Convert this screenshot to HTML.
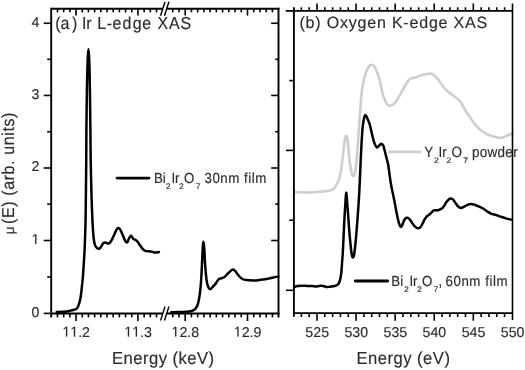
<!DOCTYPE html>
<html><head><meta charset="utf-8"><style>
html,body{margin:0;padding:0;background:#fff;width:525px;height:370px;overflow:hidden}
svg{display:block;will-change:transform}
text{font-family:"Liberation Sans",sans-serif;fill:#2c2c2c;stroke:#2c2c2c;stroke-width:0.15px;text-rendering:geometricPrecision}
.g{fill:#2c2c2c;stroke:#2c2c2c;stroke-width:0.15px;vector-effect:non-scaling-stroke}
</style></head><body>
<svg width="525" height="370" viewBox="0 0 525 370">
<rect width="525" height="370" fill="#fff"/>
<path d="M294.30 192.00 C295.75 192.07 300.12 192.32 303.00 192.40 C305.88 192.48 308.73 192.63 311.60 192.50 C314.47 192.37 317.32 191.88 320.20 191.60 C323.08 191.32 326.73 191.20 328.90 190.80 C331.07 190.40 331.95 190.20 333.20 189.20 C334.45 188.20 335.38 186.62 336.40 184.80 C337.42 182.98 338.52 180.68 339.30 178.30 C340.08 175.92 340.53 174.02 341.10 170.50 C341.67 166.98 342.12 162.08 342.70 157.20 C343.28 152.32 344.03 144.77 344.60 141.20 C345.17 137.63 345.60 135.98 346.10 135.80 C346.60 135.62 347.02 135.98 347.60 140.10 C348.18 144.22 348.92 155.02 349.60 160.50 C350.28 165.98 351.05 170.38 351.70 173.00 C352.35 175.62 352.88 176.53 353.50 176.20 C354.12 175.87 354.78 174.78 355.40 171.00 C356.02 167.22 356.63 160.37 357.20 153.50 C357.77 146.63 358.30 136.88 358.80 129.80 C359.30 122.72 359.72 117.28 360.20 111.00 C360.68 104.72 361.13 97.13 361.70 92.10 C362.27 87.07 362.88 84.10 363.60 80.80 C364.32 77.50 365.12 74.67 366.00 72.30 C366.88 69.93 367.95 67.87 368.90 66.60 C369.85 65.33 370.77 64.70 371.70 64.70 C372.63 64.70 373.55 65.18 374.50 66.60 C375.45 68.02 376.52 70.83 377.40 73.20 C378.28 75.57 378.85 77.10 379.80 80.80 C380.75 84.50 381.92 91.55 383.10 95.40 C384.28 99.25 385.63 102.17 386.90 103.90 C388.17 105.63 389.38 105.95 390.70 105.80 C392.02 105.65 393.48 104.42 394.80 103.00 C396.12 101.58 397.17 99.67 398.60 97.30 C400.03 94.93 401.98 91.32 403.40 88.80 C404.82 86.28 405.85 83.93 407.10 82.20 C408.35 80.47 409.57 79.17 410.90 78.40 C412.23 77.63 413.53 78.07 415.10 77.60 C416.67 77.13 418.58 76.15 420.30 75.60 C422.02 75.05 423.90 74.65 425.40 74.30 C426.90 73.95 428.02 73.50 429.30 73.50 C430.58 73.50 431.82 73.53 433.10 74.30 C434.38 75.07 435.72 76.60 437.00 78.10 C438.28 79.60 439.52 81.58 440.80 83.30 C442.08 85.02 443.20 86.78 444.70 88.40 C446.20 90.02 448.08 91.58 449.80 93.00 C451.52 94.42 453.28 95.52 455.00 96.90 C456.72 98.28 458.38 99.07 460.10 101.30 C461.82 103.53 463.58 107.52 465.30 110.30 C467.02 113.08 468.70 115.57 470.40 118.00 C472.10 120.43 473.78 122.85 475.50 124.90 C477.22 126.95 478.77 128.75 480.70 130.30 C482.63 131.85 484.75 133.13 487.10 134.20 C489.45 135.27 492.45 136.10 494.80 136.70 C497.15 137.30 499.27 137.92 501.20 137.80 C503.13 137.68 504.55 136.73 506.40 136.00 C508.25 135.27 511.32 133.83 512.30 133.40" fill="none" stroke="#cecece" stroke-width="2.60" stroke-linejoin="round" stroke-linecap="round"/>
<path d="M56.80 312.00 C57.57 311.97 59.83 311.88 61.40 311.80 C62.97 311.72 64.88 311.63 66.20 311.50 C67.52 311.37 68.38 311.20 69.30 311.00 C70.22 310.80 70.88 310.52 71.70 310.30 C72.52 310.08 73.48 309.90 74.20 309.70 C74.92 309.50 75.48 309.40 76.00 309.10 C76.52 308.80 76.90 308.48 77.30 307.90 C77.70 307.32 78.05 306.48 78.40 305.60 C78.75 304.72 79.08 303.70 79.40 302.60 C79.72 301.50 80.02 300.43 80.30 299.00 C80.58 297.57 80.83 296.08 81.10 294.00 C81.37 291.92 81.62 289.17 81.90 286.50 C82.18 283.83 82.53 281.08 82.80 278.00 C83.07 274.92 83.27 271.50 83.50 268.00 C83.73 264.50 83.98 260.83 84.20 257.00 C84.42 253.17 84.62 249.50 84.80 245.00 C84.98 240.50 85.16 235.00 85.30 230.00 C85.44 225.00 85.49 226.67 85.65 215.00 C85.81 203.33 86.12 174.17 86.25 160.00 C86.38 145.83 86.29 141.67 86.40 130.00 C86.51 118.33 86.75 99.67 86.90 90.00 C87.05 80.33 87.15 77.50 87.30 72.00 C87.45 66.50 87.61 60.80 87.80 57.00 C87.99 53.20 88.23 49.20 88.45 49.20 C88.67 49.20 88.91 53.20 89.10 57.00 C89.29 60.80 89.47 66.50 89.60 72.00 C89.73 77.50 89.77 80.33 89.90 90.00 C90.03 99.67 90.27 118.33 90.40 130.00 C90.53 141.67 90.52 149.17 90.70 160.00 C90.88 170.83 91.25 185.83 91.50 195.00 C91.75 204.17 91.98 209.63 92.20 215.00 C92.42 220.37 92.55 223.28 92.80 227.20 C93.05 231.12 93.33 235.50 93.70 238.50 C94.07 241.50 94.45 243.62 95.00 245.20 C95.55 246.78 96.27 247.42 97.00 248.00 C97.73 248.58 98.68 248.97 99.40 248.70 C100.12 248.43 100.65 247.32 101.30 246.40 C101.95 245.48 102.58 243.87 103.30 243.20 C104.02 242.53 104.83 242.33 105.60 242.40 C106.37 242.47 107.15 243.60 107.90 243.60 C108.65 243.60 109.35 243.23 110.10 242.40 C110.85 241.57 111.50 240.37 112.40 238.60 C113.30 236.83 114.65 233.53 115.50 231.80 C116.35 230.07 116.80 228.68 117.50 228.20 C118.20 227.72 119.02 228.18 119.70 228.90 C120.38 229.62 120.90 231.00 121.60 232.50 C122.30 234.00 123.20 236.37 123.90 237.90 C124.60 239.43 125.22 240.98 125.80 241.70 C126.38 242.42 126.88 242.72 127.40 242.20 C127.92 241.68 128.35 239.67 128.90 238.60 C129.45 237.53 130.15 236.05 130.70 235.80 C131.25 235.55 131.73 236.55 132.20 237.10 C132.67 237.65 132.98 238.67 133.50 239.10 C134.02 239.53 134.62 239.27 135.30 239.70 C135.98 240.13 136.83 240.78 137.60 241.70 C138.37 242.62 139.07 244.02 139.90 245.20 C140.73 246.38 141.72 247.87 142.60 248.80 C143.48 249.73 144.13 250.38 145.20 250.80 C146.27 251.22 147.87 251.17 149.00 251.30 C150.13 251.43 150.98 251.38 152.00 251.60 C153.02 251.82 153.95 252.53 155.10 252.60 C156.25 252.67 158.27 252.10 158.90 252.00" fill="none" stroke="#000" stroke-width="2.50" stroke-linejoin="round" stroke-linecap="round"/>
<path d="M171.30 312.30 C172.68 312.27 177.15 312.20 179.60 312.10 C182.05 312.00 184.17 311.85 186.00 311.70 C187.83 311.55 189.33 311.45 190.60 311.20 C191.87 310.95 192.73 310.70 193.60 310.20 C194.47 309.70 195.17 309.02 195.80 308.20 C196.43 307.38 196.93 306.47 197.40 305.30 C197.87 304.13 198.25 302.75 198.60 301.20 C198.95 299.65 199.22 297.87 199.50 296.00 C199.78 294.13 200.05 292.33 200.30 290.00 C200.55 287.67 200.78 285.00 201.00 282.00 C201.22 279.00 201.38 276.17 201.60 272.00 C201.82 267.83 202.10 261.17 202.30 257.00 C202.50 252.83 202.62 249.55 202.80 247.00 C202.98 244.45 203.12 241.70 203.35 241.70 C203.58 241.70 203.91 243.27 204.20 247.00 C204.49 250.73 204.68 258.42 205.10 264.10 C205.52 269.78 206.12 277.17 206.70 281.10 C207.28 285.03 207.98 286.37 208.60 287.70 C209.22 289.03 209.72 289.25 210.40 289.10 C211.08 288.95 211.85 287.67 212.70 286.80 C213.55 285.93 214.55 285.10 215.50 283.90 C216.45 282.70 217.45 280.53 218.40 279.60 C219.35 278.67 220.25 278.68 221.20 278.30 C222.15 277.92 222.98 278.10 224.10 277.30 C225.22 276.50 226.52 274.78 227.90 273.50 C229.28 272.22 231.23 270.07 232.40 269.60 C233.57 269.13 234.03 269.90 234.90 270.70 C235.77 271.50 236.62 273.20 237.60 274.40 C238.58 275.60 239.73 277.03 240.80 277.90 C241.87 278.77 242.57 279.22 244.00 279.60 C245.43 279.98 247.42 280.07 249.40 280.20 C251.38 280.33 253.73 280.50 255.90 280.40 C258.07 280.30 260.23 279.90 262.40 279.60 C264.57 279.30 266.92 279.00 268.90 278.60 C270.88 278.20 272.70 277.55 274.30 277.20 C275.90 276.85 277.80 276.62 278.50 276.50" fill="none" stroke="#000" stroke-width="2.50" stroke-linejoin="round" stroke-linecap="round"/>
<path d="M294.30 287.00 C294.85 286.83 296.25 286.22 297.60 286.00 C298.95 285.78 300.82 285.70 302.40 285.70 C303.98 285.70 305.52 285.95 307.10 286.00 C308.68 286.05 310.30 285.92 311.90 286.00 C313.50 286.08 315.27 286.55 316.70 286.50 C318.13 286.45 319.40 285.78 320.50 285.70 C321.60 285.62 322.35 285.77 323.30 286.00 C324.25 286.23 325.08 286.98 326.20 287.10 C327.32 287.22 328.57 286.88 330.00 286.70 C331.43 286.52 333.53 286.32 334.80 286.00 C336.07 285.68 336.87 285.38 337.60 284.80 C338.33 284.22 338.72 283.63 339.20 282.50 C339.68 281.37 340.13 279.83 340.50 278.00 C340.87 276.17 341.13 274.17 341.40 271.50 C341.67 268.83 341.87 265.15 342.10 262.00 C342.33 258.85 342.57 256.60 342.80 252.60 C343.03 248.60 343.28 242.52 343.50 238.00 C343.72 233.48 343.88 229.83 344.10 225.50 C344.32 221.17 344.57 216.05 344.80 212.00 C345.03 207.95 345.27 204.40 345.50 201.20 C345.73 198.00 345.95 193.00 346.20 192.80 C346.45 192.60 346.72 196.80 347.00 200.00 C347.28 203.20 347.52 206.83 347.90 212.00 C348.28 217.17 348.83 225.33 349.30 231.00 C349.77 236.67 350.27 242.00 350.70 246.00 C351.13 250.00 351.52 253.10 351.90 255.00 C352.28 256.90 352.62 257.48 353.00 257.40 C353.38 257.32 353.82 256.57 354.20 254.50 C354.58 252.43 354.93 248.58 355.30 245.00 C355.67 241.42 356.03 237.33 356.40 233.00 C356.77 228.67 357.15 223.67 357.50 219.00 C357.85 214.33 358.20 209.57 358.50 205.00 C358.80 200.43 359.00 197.43 359.30 191.60 C359.60 185.77 359.98 176.93 360.30 170.00 C360.62 163.07 360.85 156.67 361.20 150.00 C361.55 143.33 362.00 134.92 362.40 130.00 C362.80 125.08 363.23 122.80 363.60 120.50 C363.97 118.20 364.30 117.12 364.60 116.20 C364.90 115.28 365.12 115.00 365.40 115.00 C365.68 115.00 365.97 115.60 366.30 116.20 C366.63 116.80 366.85 117.30 367.40 118.60 C367.95 119.90 368.83 121.42 369.60 124.00 C370.37 126.58 371.20 130.92 372.00 134.10 C372.80 137.28 373.58 140.88 374.40 143.10 C375.22 145.32 376.08 147.00 376.90 147.40 C377.72 147.80 378.58 146.12 379.30 145.50 C380.02 144.88 380.53 143.70 381.20 143.70 C381.87 143.70 382.67 144.12 383.30 145.50 C383.93 146.88 384.45 149.85 385.00 152.00 C385.55 154.15 386.07 156.23 386.60 158.40 C387.13 160.57 387.50 160.87 388.20 165.00 C388.90 169.13 389.97 178.20 390.80 183.20 C391.63 188.20 392.52 191.58 393.20 195.00 C393.88 198.42 394.35 200.82 394.90 203.70 C395.45 206.58 395.97 209.60 396.50 212.30 C397.03 215.00 397.57 217.73 398.10 219.90 C398.63 222.07 399.22 224.13 399.70 225.30 C400.18 226.47 400.55 226.98 401.00 226.90 C401.45 226.82 401.88 225.88 402.40 224.80 C402.92 223.72 403.47 221.55 404.10 220.40 C404.73 219.25 405.57 218.32 406.20 217.90 C406.83 217.48 407.27 217.60 407.90 217.90 C408.53 218.20 409.20 218.73 410.00 219.70 C410.80 220.67 411.80 222.50 412.70 223.70 C413.60 224.90 414.53 226.13 415.40 226.90 C416.27 227.67 417.08 228.23 417.90 228.30 C418.72 228.37 419.53 228.07 420.30 227.30 C421.07 226.53 421.78 225.02 422.50 223.70 C423.22 222.38 423.88 220.62 424.60 219.40 C425.32 218.18 425.98 217.22 426.80 216.40 C427.62 215.58 428.68 215.18 429.50 214.50 C430.32 213.82 430.98 212.98 431.70 212.30 C432.42 211.62 433.00 210.75 433.80 210.40 C434.60 210.05 435.67 210.27 436.50 210.20 C437.33 210.13 437.90 210.27 438.80 210.00 C439.70 209.73 441.02 209.28 441.90 208.60 C442.78 207.92 443.35 206.98 444.10 205.90 C444.85 204.82 445.63 203.17 446.40 202.10 C447.17 201.03 447.93 200.08 448.70 199.50 C449.47 198.92 450.23 198.55 451.00 198.60 C451.77 198.65 452.53 199.03 453.30 199.80 C454.07 200.57 454.83 202.13 455.60 203.20 C456.37 204.27 457.02 205.42 457.90 206.20 C458.78 206.98 459.88 207.82 460.90 207.90 C461.92 207.98 462.98 207.17 464.00 206.70 C465.02 206.23 465.87 205.53 467.00 205.10 C468.13 204.67 469.53 204.15 470.80 204.10 C472.07 204.05 473.20 204.37 474.60 204.80 C476.00 205.23 477.67 206.00 479.20 206.70 C480.73 207.40 482.40 208.17 483.80 209.00 C485.20 209.83 486.33 210.90 487.60 211.70 C488.87 212.50 490.00 213.25 491.40 213.80 C492.80 214.35 494.48 214.53 496.00 215.00 C497.52 215.47 498.85 216.03 500.50 216.60 C502.15 217.17 504.12 217.90 505.90 218.40 C507.68 218.90 510.32 219.40 511.20 219.60" fill="none" stroke="#000" stroke-width="2.50" stroke-linejoin="round" stroke-linecap="round"/>
<line x1="117.0" y1="178.1" x2="148.9" y2="178.1" stroke="#000" stroke-width="2.8" stroke-linecap="round"/>
<line x1="389.0" y1="151.9" x2="420.3" y2="151.9" stroke="#cecece" stroke-width="2.8" stroke-linecap="round"/>
<line x1="355.3" y1="281.0" x2="387.7" y2="281.0" stroke="#000" stroke-width="2.8" stroke-linecap="round"/>
<line x1="51.20" y1="7.80" x2="51.20" y2="317.40" stroke="#000" stroke-width="1.90" stroke-linecap="butt"/>
<line x1="278.50" y1="7.80" x2="278.50" y2="317.40" stroke="#000" stroke-width="1.90" stroke-linecap="butt"/>
<line x1="51.20" y1="8.75" x2="162.80" y2="8.75" stroke="#000" stroke-width="1.90" stroke-linecap="butt"/>
<line x1="166.70" y1="8.75" x2="279.45" y2="8.75" stroke="#000" stroke-width="1.90" stroke-linecap="butt"/>
<line x1="51.20" y1="313.50" x2="162.80" y2="313.50" stroke="#000" stroke-width="1.90" stroke-linecap="butt"/>
<line x1="166.70" y1="313.50" x2="279.45" y2="313.50" stroke="#000" stroke-width="1.90" stroke-linecap="butt"/>
<line x1="160.55" y1="15.75" x2="165.05" y2="1.75" stroke="#000" stroke-width="1.40" stroke-linecap="butt"/>
<line x1="164.45" y1="15.75" x2="168.95" y2="1.75" stroke="#000" stroke-width="1.40" stroke-linecap="butt"/>
<line x1="160.55" y1="320.50" x2="165.05" y2="306.50" stroke="#000" stroke-width="1.40" stroke-linecap="butt"/>
<line x1="164.45" y1="320.50" x2="168.95" y2="306.50" stroke="#000" stroke-width="1.40" stroke-linecap="butt"/>
<line x1="43.70" y1="313.41" x2="51.20" y2="313.41" stroke="#000" stroke-width="1.60" stroke-linecap="butt"/>
<line x1="47.20" y1="277.00" x2="51.20" y2="277.00" stroke="#000" stroke-width="1.60" stroke-linecap="butt"/>
<line x1="275.30" y1="277.00" x2="278.50" y2="277.00" stroke="#000" stroke-width="1.60" stroke-linecap="butt"/>
<line x1="43.70" y1="240.50" x2="51.20" y2="240.50" stroke="#000" stroke-width="1.60" stroke-linecap="butt"/>
<line x1="271.20" y1="240.50" x2="278.50" y2="240.50" stroke="#000" stroke-width="1.60" stroke-linecap="butt"/>
<line x1="47.20" y1="204.20" x2="51.20" y2="204.20" stroke="#000" stroke-width="1.60" stroke-linecap="butt"/>
<line x1="275.30" y1="204.20" x2="278.50" y2="204.20" stroke="#000" stroke-width="1.60" stroke-linecap="butt"/>
<line x1="43.70" y1="168.00" x2="51.20" y2="168.00" stroke="#000" stroke-width="1.60" stroke-linecap="butt"/>
<line x1="271.20" y1="168.00" x2="278.50" y2="168.00" stroke="#000" stroke-width="1.60" stroke-linecap="butt"/>
<line x1="47.20" y1="131.70" x2="51.20" y2="131.70" stroke="#000" stroke-width="1.60" stroke-linecap="butt"/>
<line x1="275.30" y1="131.70" x2="278.50" y2="131.70" stroke="#000" stroke-width="1.60" stroke-linecap="butt"/>
<line x1="43.70" y1="95.45" x2="51.20" y2="95.45" stroke="#000" stroke-width="1.60" stroke-linecap="butt"/>
<line x1="271.20" y1="95.45" x2="278.50" y2="95.45" stroke="#000" stroke-width="1.60" stroke-linecap="butt"/>
<line x1="47.20" y1="59.30" x2="51.20" y2="59.30" stroke="#000" stroke-width="1.60" stroke-linecap="butt"/>
<line x1="275.30" y1="59.30" x2="278.50" y2="59.30" stroke="#000" stroke-width="1.60" stroke-linecap="butt"/>
<line x1="43.70" y1="23.27" x2="51.20" y2="23.27" stroke="#000" stroke-width="1.60" stroke-linecap="butt"/>
<line x1="271.20" y1="23.27" x2="278.50" y2="23.27" stroke="#000" stroke-width="1.60" stroke-linecap="butt"/>
<line x1="57.49" y1="313.50" x2="57.49" y2="317.40" stroke="#000" stroke-width="1.60" stroke-linecap="butt"/>
<line x1="57.49" y1="8.75" x2="57.49" y2="12.35" stroke="#000" stroke-width="1.60" stroke-linecap="butt"/>
<line x1="63.68" y1="313.50" x2="63.68" y2="317.40" stroke="#000" stroke-width="1.60" stroke-linecap="butt"/>
<line x1="63.68" y1="8.75" x2="63.68" y2="12.35" stroke="#000" stroke-width="1.60" stroke-linecap="butt"/>
<line x1="69.87" y1="313.50" x2="69.87" y2="317.40" stroke="#000" stroke-width="1.60" stroke-linecap="butt"/>
<line x1="69.87" y1="8.75" x2="69.87" y2="12.35" stroke="#000" stroke-width="1.60" stroke-linecap="butt"/>
<line x1="76.06" y1="313.50" x2="76.06" y2="321.00" stroke="#000" stroke-width="1.60" stroke-linecap="butt"/>
<line x1="76.06" y1="8.75" x2="76.06" y2="15.55" stroke="#000" stroke-width="1.60" stroke-linecap="butt"/>
<line x1="82.25" y1="313.50" x2="82.25" y2="317.40" stroke="#000" stroke-width="1.60" stroke-linecap="butt"/>
<line x1="82.25" y1="8.75" x2="82.25" y2="12.35" stroke="#000" stroke-width="1.60" stroke-linecap="butt"/>
<line x1="88.44" y1="313.50" x2="88.44" y2="317.40" stroke="#000" stroke-width="1.60" stroke-linecap="butt"/>
<line x1="88.44" y1="8.75" x2="88.44" y2="12.35" stroke="#000" stroke-width="1.60" stroke-linecap="butt"/>
<line x1="94.63" y1="313.50" x2="94.63" y2="317.40" stroke="#000" stroke-width="1.60" stroke-linecap="butt"/>
<line x1="94.63" y1="8.75" x2="94.63" y2="12.35" stroke="#000" stroke-width="1.60" stroke-linecap="butt"/>
<line x1="100.82" y1="313.50" x2="100.82" y2="317.40" stroke="#000" stroke-width="1.60" stroke-linecap="butt"/>
<line x1="100.82" y1="8.75" x2="100.82" y2="12.35" stroke="#000" stroke-width="1.60" stroke-linecap="butt"/>
<line x1="107.01" y1="313.50" x2="107.01" y2="317.40" stroke="#000" stroke-width="1.60" stroke-linecap="butt"/>
<line x1="107.01" y1="8.75" x2="107.01" y2="12.35" stroke="#000" stroke-width="1.60" stroke-linecap="butt"/>
<line x1="113.19" y1="313.50" x2="113.19" y2="317.40" stroke="#000" stroke-width="1.60" stroke-linecap="butt"/>
<line x1="113.19" y1="8.75" x2="113.19" y2="12.35" stroke="#000" stroke-width="1.60" stroke-linecap="butt"/>
<line x1="119.38" y1="313.50" x2="119.38" y2="317.40" stroke="#000" stroke-width="1.60" stroke-linecap="butt"/>
<line x1="119.38" y1="8.75" x2="119.38" y2="12.35" stroke="#000" stroke-width="1.60" stroke-linecap="butt"/>
<line x1="125.57" y1="313.50" x2="125.57" y2="317.40" stroke="#000" stroke-width="1.60" stroke-linecap="butt"/>
<line x1="125.57" y1="8.75" x2="125.57" y2="12.35" stroke="#000" stroke-width="1.60" stroke-linecap="butt"/>
<line x1="131.76" y1="313.50" x2="131.76" y2="317.40" stroke="#000" stroke-width="1.60" stroke-linecap="butt"/>
<line x1="131.76" y1="8.75" x2="131.76" y2="12.35" stroke="#000" stroke-width="1.60" stroke-linecap="butt"/>
<line x1="137.95" y1="313.50" x2="137.95" y2="321.00" stroke="#000" stroke-width="1.60" stroke-linecap="butt"/>
<line x1="137.95" y1="8.75" x2="137.95" y2="15.55" stroke="#000" stroke-width="1.60" stroke-linecap="butt"/>
<line x1="144.14" y1="313.50" x2="144.14" y2="317.40" stroke="#000" stroke-width="1.60" stroke-linecap="butt"/>
<line x1="144.14" y1="8.75" x2="144.14" y2="12.35" stroke="#000" stroke-width="1.60" stroke-linecap="butt"/>
<line x1="150.33" y1="313.50" x2="150.33" y2="317.40" stroke="#000" stroke-width="1.60" stroke-linecap="butt"/>
<line x1="150.33" y1="8.75" x2="150.33" y2="12.35" stroke="#000" stroke-width="1.60" stroke-linecap="butt"/>
<line x1="156.52" y1="313.50" x2="156.52" y2="317.40" stroke="#000" stroke-width="1.60" stroke-linecap="butt"/>
<line x1="156.52" y1="8.75" x2="156.52" y2="12.35" stroke="#000" stroke-width="1.60" stroke-linecap="butt"/>
<line x1="172.74" y1="313.50" x2="172.74" y2="317.40" stroke="#000" stroke-width="1.60" stroke-linecap="butt"/>
<line x1="172.74" y1="8.75" x2="172.74" y2="12.35" stroke="#000" stroke-width="1.60" stroke-linecap="butt"/>
<line x1="178.97" y1="313.50" x2="178.97" y2="317.40" stroke="#000" stroke-width="1.60" stroke-linecap="butt"/>
<line x1="178.97" y1="8.75" x2="178.97" y2="12.35" stroke="#000" stroke-width="1.60" stroke-linecap="butt"/>
<line x1="185.20" y1="313.50" x2="185.20" y2="321.00" stroke="#000" stroke-width="1.60" stroke-linecap="butt"/>
<line x1="185.20" y1="8.75" x2="185.20" y2="15.55" stroke="#000" stroke-width="1.60" stroke-linecap="butt"/>
<line x1="191.43" y1="313.50" x2="191.43" y2="317.40" stroke="#000" stroke-width="1.60" stroke-linecap="butt"/>
<line x1="191.43" y1="8.75" x2="191.43" y2="12.35" stroke="#000" stroke-width="1.60" stroke-linecap="butt"/>
<line x1="197.66" y1="313.50" x2="197.66" y2="317.40" stroke="#000" stroke-width="1.60" stroke-linecap="butt"/>
<line x1="197.66" y1="8.75" x2="197.66" y2="12.35" stroke="#000" stroke-width="1.60" stroke-linecap="butt"/>
<line x1="203.89" y1="313.50" x2="203.89" y2="317.40" stroke="#000" stroke-width="1.60" stroke-linecap="butt"/>
<line x1="203.89" y1="8.75" x2="203.89" y2="12.35" stroke="#000" stroke-width="1.60" stroke-linecap="butt"/>
<line x1="210.12" y1="313.50" x2="210.12" y2="317.40" stroke="#000" stroke-width="1.60" stroke-linecap="butt"/>
<line x1="210.12" y1="8.75" x2="210.12" y2="12.35" stroke="#000" stroke-width="1.60" stroke-linecap="butt"/>
<line x1="216.35" y1="313.50" x2="216.35" y2="317.40" stroke="#000" stroke-width="1.60" stroke-linecap="butt"/>
<line x1="216.35" y1="8.75" x2="216.35" y2="12.35" stroke="#000" stroke-width="1.60" stroke-linecap="butt"/>
<line x1="222.58" y1="313.50" x2="222.58" y2="317.40" stroke="#000" stroke-width="1.60" stroke-linecap="butt"/>
<line x1="222.58" y1="8.75" x2="222.58" y2="12.35" stroke="#000" stroke-width="1.60" stroke-linecap="butt"/>
<line x1="228.81" y1="313.50" x2="228.81" y2="317.40" stroke="#000" stroke-width="1.60" stroke-linecap="butt"/>
<line x1="228.81" y1="8.75" x2="228.81" y2="12.35" stroke="#000" stroke-width="1.60" stroke-linecap="butt"/>
<line x1="235.04" y1="313.50" x2="235.04" y2="317.40" stroke="#000" stroke-width="1.60" stroke-linecap="butt"/>
<line x1="235.04" y1="8.75" x2="235.04" y2="12.35" stroke="#000" stroke-width="1.60" stroke-linecap="butt"/>
<line x1="241.27" y1="313.50" x2="241.27" y2="317.40" stroke="#000" stroke-width="1.60" stroke-linecap="butt"/>
<line x1="241.27" y1="8.75" x2="241.27" y2="12.35" stroke="#000" stroke-width="1.60" stroke-linecap="butt"/>
<line x1="247.50" y1="313.50" x2="247.50" y2="321.00" stroke="#000" stroke-width="1.60" stroke-linecap="butt"/>
<line x1="247.50" y1="8.75" x2="247.50" y2="15.55" stroke="#000" stroke-width="1.60" stroke-linecap="butt"/>
<line x1="253.73" y1="313.50" x2="253.73" y2="317.40" stroke="#000" stroke-width="1.60" stroke-linecap="butt"/>
<line x1="253.73" y1="8.75" x2="253.73" y2="12.35" stroke="#000" stroke-width="1.60" stroke-linecap="butt"/>
<line x1="259.96" y1="313.50" x2="259.96" y2="317.40" stroke="#000" stroke-width="1.60" stroke-linecap="butt"/>
<line x1="259.96" y1="8.75" x2="259.96" y2="12.35" stroke="#000" stroke-width="1.60" stroke-linecap="butt"/>
<line x1="266.19" y1="313.50" x2="266.19" y2="317.40" stroke="#000" stroke-width="1.60" stroke-linecap="butt"/>
<line x1="266.19" y1="8.75" x2="266.19" y2="12.35" stroke="#000" stroke-width="1.60" stroke-linecap="butt"/>
<line x1="272.42" y1="313.50" x2="272.42" y2="317.40" stroke="#000" stroke-width="1.60" stroke-linecap="butt"/>
<line x1="272.42" y1="8.75" x2="272.42" y2="12.35" stroke="#000" stroke-width="1.60" stroke-linecap="butt"/>
<line x1="293.90" y1="7.30" x2="293.90" y2="316.70" stroke="#000" stroke-width="1.90" stroke-linecap="butt"/>
<line x1="512.50" y1="3.40" x2="512.50" y2="320.10" stroke="#000" stroke-width="1.60" stroke-linecap="butt"/>
<line x1="285.80" y1="10.90" x2="512.50" y2="10.90" stroke="#000" stroke-width="1.90" stroke-linecap="butt"/>
<line x1="293.90" y1="313.10" x2="512.50" y2="313.10" stroke="#000" stroke-width="1.90" stroke-linecap="butt"/>
<line x1="301.37" y1="313.10" x2="301.37" y2="317.00" stroke="#000" stroke-width="1.60" stroke-linecap="butt"/>
<line x1="301.37" y1="10.90" x2="301.37" y2="7.30" stroke="#000" stroke-width="1.60" stroke-linecap="butt"/>
<line x1="309.18" y1="313.10" x2="309.18" y2="317.00" stroke="#000" stroke-width="1.60" stroke-linecap="butt"/>
<line x1="309.18" y1="10.90" x2="309.18" y2="7.30" stroke="#000" stroke-width="1.60" stroke-linecap="butt"/>
<line x1="317.00" y1="313.10" x2="317.00" y2="320.70" stroke="#000" stroke-width="1.60" stroke-linecap="butt"/>
<line x1="317.00" y1="10.90" x2="317.00" y2="3.40" stroke="#000" stroke-width="1.60" stroke-linecap="butt"/>
<line x1="324.82" y1="313.10" x2="324.82" y2="317.00" stroke="#000" stroke-width="1.60" stroke-linecap="butt"/>
<line x1="324.82" y1="10.90" x2="324.82" y2="7.30" stroke="#000" stroke-width="1.60" stroke-linecap="butt"/>
<line x1="332.63" y1="313.10" x2="332.63" y2="317.00" stroke="#000" stroke-width="1.60" stroke-linecap="butt"/>
<line x1="332.63" y1="10.90" x2="332.63" y2="7.30" stroke="#000" stroke-width="1.60" stroke-linecap="butt"/>
<line x1="340.45" y1="313.10" x2="340.45" y2="317.00" stroke="#000" stroke-width="1.60" stroke-linecap="butt"/>
<line x1="340.45" y1="10.90" x2="340.45" y2="7.30" stroke="#000" stroke-width="1.60" stroke-linecap="butt"/>
<line x1="348.26" y1="313.10" x2="348.26" y2="317.00" stroke="#000" stroke-width="1.60" stroke-linecap="butt"/>
<line x1="348.26" y1="10.90" x2="348.26" y2="7.30" stroke="#000" stroke-width="1.60" stroke-linecap="butt"/>
<line x1="356.08" y1="313.10" x2="356.08" y2="320.70" stroke="#000" stroke-width="1.60" stroke-linecap="butt"/>
<line x1="356.08" y1="10.90" x2="356.08" y2="3.40" stroke="#000" stroke-width="1.60" stroke-linecap="butt"/>
<line x1="363.90" y1="313.10" x2="363.90" y2="317.00" stroke="#000" stroke-width="1.60" stroke-linecap="butt"/>
<line x1="363.90" y1="10.90" x2="363.90" y2="7.30" stroke="#000" stroke-width="1.60" stroke-linecap="butt"/>
<line x1="371.71" y1="313.10" x2="371.71" y2="317.00" stroke="#000" stroke-width="1.60" stroke-linecap="butt"/>
<line x1="371.71" y1="10.90" x2="371.71" y2="7.30" stroke="#000" stroke-width="1.60" stroke-linecap="butt"/>
<line x1="379.53" y1="313.10" x2="379.53" y2="317.00" stroke="#000" stroke-width="1.60" stroke-linecap="butt"/>
<line x1="379.53" y1="10.90" x2="379.53" y2="7.30" stroke="#000" stroke-width="1.60" stroke-linecap="butt"/>
<line x1="387.34" y1="313.10" x2="387.34" y2="317.00" stroke="#000" stroke-width="1.60" stroke-linecap="butt"/>
<line x1="387.34" y1="10.90" x2="387.34" y2="7.30" stroke="#000" stroke-width="1.60" stroke-linecap="butt"/>
<line x1="395.16" y1="313.10" x2="395.16" y2="320.70" stroke="#000" stroke-width="1.60" stroke-linecap="butt"/>
<line x1="395.16" y1="10.90" x2="395.16" y2="3.40" stroke="#000" stroke-width="1.60" stroke-linecap="butt"/>
<line x1="402.98" y1="313.10" x2="402.98" y2="317.00" stroke="#000" stroke-width="1.60" stroke-linecap="butt"/>
<line x1="402.98" y1="10.90" x2="402.98" y2="7.30" stroke="#000" stroke-width="1.60" stroke-linecap="butt"/>
<line x1="410.79" y1="313.10" x2="410.79" y2="317.00" stroke="#000" stroke-width="1.60" stroke-linecap="butt"/>
<line x1="410.79" y1="10.90" x2="410.79" y2="7.30" stroke="#000" stroke-width="1.60" stroke-linecap="butt"/>
<line x1="418.61" y1="313.10" x2="418.61" y2="317.00" stroke="#000" stroke-width="1.60" stroke-linecap="butt"/>
<line x1="418.61" y1="10.90" x2="418.61" y2="7.30" stroke="#000" stroke-width="1.60" stroke-linecap="butt"/>
<line x1="426.42" y1="313.10" x2="426.42" y2="317.00" stroke="#000" stroke-width="1.60" stroke-linecap="butt"/>
<line x1="426.42" y1="10.90" x2="426.42" y2="7.30" stroke="#000" stroke-width="1.60" stroke-linecap="butt"/>
<line x1="434.24" y1="313.10" x2="434.24" y2="320.70" stroke="#000" stroke-width="1.60" stroke-linecap="butt"/>
<line x1="434.24" y1="10.90" x2="434.24" y2="3.40" stroke="#000" stroke-width="1.60" stroke-linecap="butt"/>
<line x1="442.06" y1="313.10" x2="442.06" y2="317.00" stroke="#000" stroke-width="1.60" stroke-linecap="butt"/>
<line x1="442.06" y1="10.90" x2="442.06" y2="7.30" stroke="#000" stroke-width="1.60" stroke-linecap="butt"/>
<line x1="449.87" y1="313.10" x2="449.87" y2="317.00" stroke="#000" stroke-width="1.60" stroke-linecap="butt"/>
<line x1="449.87" y1="10.90" x2="449.87" y2="7.30" stroke="#000" stroke-width="1.60" stroke-linecap="butt"/>
<line x1="457.69" y1="313.10" x2="457.69" y2="317.00" stroke="#000" stroke-width="1.60" stroke-linecap="butt"/>
<line x1="457.69" y1="10.90" x2="457.69" y2="7.30" stroke="#000" stroke-width="1.60" stroke-linecap="butt"/>
<line x1="465.50" y1="313.10" x2="465.50" y2="317.00" stroke="#000" stroke-width="1.60" stroke-linecap="butt"/>
<line x1="465.50" y1="10.90" x2="465.50" y2="7.30" stroke="#000" stroke-width="1.60" stroke-linecap="butt"/>
<line x1="473.32" y1="313.10" x2="473.32" y2="320.70" stroke="#000" stroke-width="1.60" stroke-linecap="butt"/>
<line x1="473.32" y1="10.90" x2="473.32" y2="3.40" stroke="#000" stroke-width="1.60" stroke-linecap="butt"/>
<line x1="481.14" y1="313.10" x2="481.14" y2="317.00" stroke="#000" stroke-width="1.60" stroke-linecap="butt"/>
<line x1="481.14" y1="10.90" x2="481.14" y2="7.30" stroke="#000" stroke-width="1.60" stroke-linecap="butt"/>
<line x1="488.95" y1="313.10" x2="488.95" y2="317.00" stroke="#000" stroke-width="1.60" stroke-linecap="butt"/>
<line x1="488.95" y1="10.90" x2="488.95" y2="7.30" stroke="#000" stroke-width="1.60" stroke-linecap="butt"/>
<line x1="496.77" y1="313.10" x2="496.77" y2="317.00" stroke="#000" stroke-width="1.60" stroke-linecap="butt"/>
<line x1="496.77" y1="10.90" x2="496.77" y2="7.30" stroke="#000" stroke-width="1.60" stroke-linecap="butt"/>
<line x1="504.58" y1="313.10" x2="504.58" y2="317.00" stroke="#000" stroke-width="1.60" stroke-linecap="butt"/>
<line x1="504.58" y1="10.90" x2="504.58" y2="7.30" stroke="#000" stroke-width="1.60" stroke-linecap="butt"/>
<line x1="289.30" y1="80.60" x2="293.90" y2="80.60" stroke="#000" stroke-width="1.60" stroke-linecap="butt"/>
<line x1="286.00" y1="150.40" x2="293.90" y2="150.40" stroke="#000" stroke-width="1.60" stroke-linecap="butt"/>
<line x1="289.30" y1="220.20" x2="293.90" y2="220.20" stroke="#000" stroke-width="1.60" stroke-linecap="butt"/>
<line x1="286.00" y1="290.30" x2="293.90" y2="290.30" stroke="#000" stroke-width="1.60" stroke-linecap="butt"/>
<text transform="translate(31.55,26.67) scale(1,1.000)" font-size="14.20">4</text>
<text transform="translate(31.55,98.85) scale(1,1.000)" font-size="14.20">3</text>
<text transform="translate(31.55,171.40) scale(1,1.000)" font-size="14.20">2</text>
<path class="g" transform="translate(31.55,243.90) scale(0.00693,-0.00693)" d="M515 0L515 1237L197 1010L197 1180L530 1409L696 1409L696 0Z"/>
<text transform="translate(31.55,316.81) scale(1,1.000)" font-size="14.20">0</text>
<path class="g" transform="translate(62.38,336.60) scale(0.00693,-0.00693)" d="M515 0L515 1237L197 1010L197 1180L530 1409L696 1409L696 0Z"/>
<path class="g" transform="translate(70.28,336.60) scale(0.00693,-0.00693)" d="M515 0L515 1237L197 1010L197 1180L530 1409L696 1409L696 0Z"/>
<text transform="translate(78.18,336.60) scale(1,1.000)" font-size="14.20">.2</text>
<path class="g" transform="translate(124.28,336.60) scale(0.00693,-0.00693)" d="M515 0L515 1237L197 1010L197 1180L530 1409L696 1409L696 0Z"/>
<path class="g" transform="translate(132.18,336.60) scale(0.00693,-0.00693)" d="M515 0L515 1237L197 1010L197 1180L530 1409L696 1409L696 0Z"/>
<text transform="translate(140.08,336.60) scale(1,1.000)" font-size="14.20">.3</text>
<path class="g" transform="translate(171.48,336.60) scale(0.00693,-0.00693)" d="M515 0L515 1237L197 1010L197 1180L530 1409L696 1409L696 0Z"/>
<text transform="translate(179.38,336.60) scale(1,1.000)" font-size="14.20">2.8</text>
<path class="g" transform="translate(233.78,336.60) scale(0.00693,-0.00693)" d="M515 0L515 1237L197 1010L197 1180L530 1409L696 1409L696 0Z"/>
<text transform="translate(241.68,336.60) scale(1,1.000)" font-size="14.20">2.9</text>
<text transform="translate(305.35,336.60) scale(1,1.000)" font-size="14.20">525</text>
<text transform="translate(344.43,336.60) scale(1,1.000)" font-size="14.20">530</text>
<text transform="translate(383.51,336.60) scale(1,1.000)" font-size="14.20">535</text>
<text transform="translate(422.59,336.60) scale(1,1.000)" font-size="14.20">540</text>
<text transform="translate(461.67,336.60) scale(1,1.000)" font-size="14.20">545</text>
<text transform="translate(500.75,336.60) scale(1,1.000)" font-size="14.20">550</text>
<text transform="translate(111.99,364.20) scale(1,1.050)" font-size="16.60" letter-spacing="0.484">Energy (keV)</text>
<text transform="translate(356.39,364.20) scale(1,1.050)" font-size="16.60" letter-spacing="0.502">Energy (eV)</text>
<text transform="translate(55.16,28.60) scale(1,1.080)" font-size="16.00" x="0.00 5.34 16.85 22.00 26.86 31.12 37.06 42.02 51.53 57.27 67.29 77.50 87.11 97.02 102.28 113.87 125.25">(a) Ir L-edge XAS</text>
<text transform="translate(299.46,28.35) scale(1,1.020)" font-size="16.00" letter-spacing="0.804">(b) Oxygen K-edge XAS</text>
<text transform="translate(13.60,233.80) rotate(-90) scale(1,1.000)" x="-0.57" y="0" font-size="13.60" letter-spacing="0.000">μ</text>
<text transform="translate(14.40,233.80) rotate(-90) scale(1,1.080)" x="9.76" y="0" font-size="16.00" letter-spacing="0.616">(E) (arb. units)</text>
<text transform="translate(153.96,182.70) scale(1,1.100)" font-size="13.30" letter-spacing="0.000">Bi</text>
<text transform="translate(165.72,188.60) scale(1,0.950)" font-size="8.60" letter-spacing="0.000">2</text>
<text transform="translate(171.42,182.70) scale(1,1.100)" font-size="13.30" letter-spacing="0.000">Ir</text>
<text transform="translate(179.02,188.60) scale(1,0.950)" font-size="8.60" letter-spacing="0.000">2</text>
<text transform="translate(184.12,182.70) scale(1,1.100)" font-size="13.30" letter-spacing="0.000">O</text>
<text transform="translate(195.71,188.60) scale(1,0.950)" font-size="8.60" letter-spacing="0.000">7</text>
<text transform="translate(204.44,182.70) scale(1,1.100)" font-size="13.30" letter-spacing="0.542">30nm film</text>
<text transform="translate(424.35,156.50) scale(1,1.100)" font-size="13.50" letter-spacing="0.000">Y</text>
<text transform="translate(434.02,162.80) scale(1,0.920)" font-size="8.60" letter-spacing="0.000">2</text>
<text transform="translate(438.60,156.50) scale(1,1.100)" font-size="13.50" letter-spacing="0.000">Ir</text>
<text transform="translate(446.62,162.80) scale(1,0.920)" font-size="8.60" letter-spacing="0.000">2</text>
<text transform="translate(451.61,156.50) scale(1,1.100)" font-size="13.50" letter-spacing="0.000">O</text>
<text transform="translate(463.21,162.80) scale(1,0.920)" font-size="8.60" letter-spacing="0.000">7</text>
<text transform="translate(471.88,156.50) scale(1,1.100)" font-size="13.50" letter-spacing="0.303">powder</text>
<text transform="translate(391.26,285.90) scale(1,1.100)" font-size="13.30" letter-spacing="0.000">Bi</text>
<text transform="translate(403.92,291.80) scale(1,0.950)" font-size="8.60" letter-spacing="0.000">2</text>
<text transform="translate(409.42,285.90) scale(1,1.100)" font-size="13.30" letter-spacing="0.000">Ir</text>
<text transform="translate(417.02,291.80) scale(1,0.950)" font-size="8.60" letter-spacing="0.000">2</text>
<text transform="translate(422.02,285.90) scale(1,1.100)" font-size="13.30" letter-spacing="0.000">O</text>
<text transform="translate(433.61,291.80) scale(1,0.950)" font-size="8.60" letter-spacing="0.000">7</text>
<text transform="translate(438.56,285.90) scale(1,1.100)" font-size="13.30" letter-spacing="0.000">,</text>
<text transform="translate(445.57,285.90) scale(1,1.100)" font-size="13.30" letter-spacing="0.538">60nm film</text>

</svg>
</body></html>
